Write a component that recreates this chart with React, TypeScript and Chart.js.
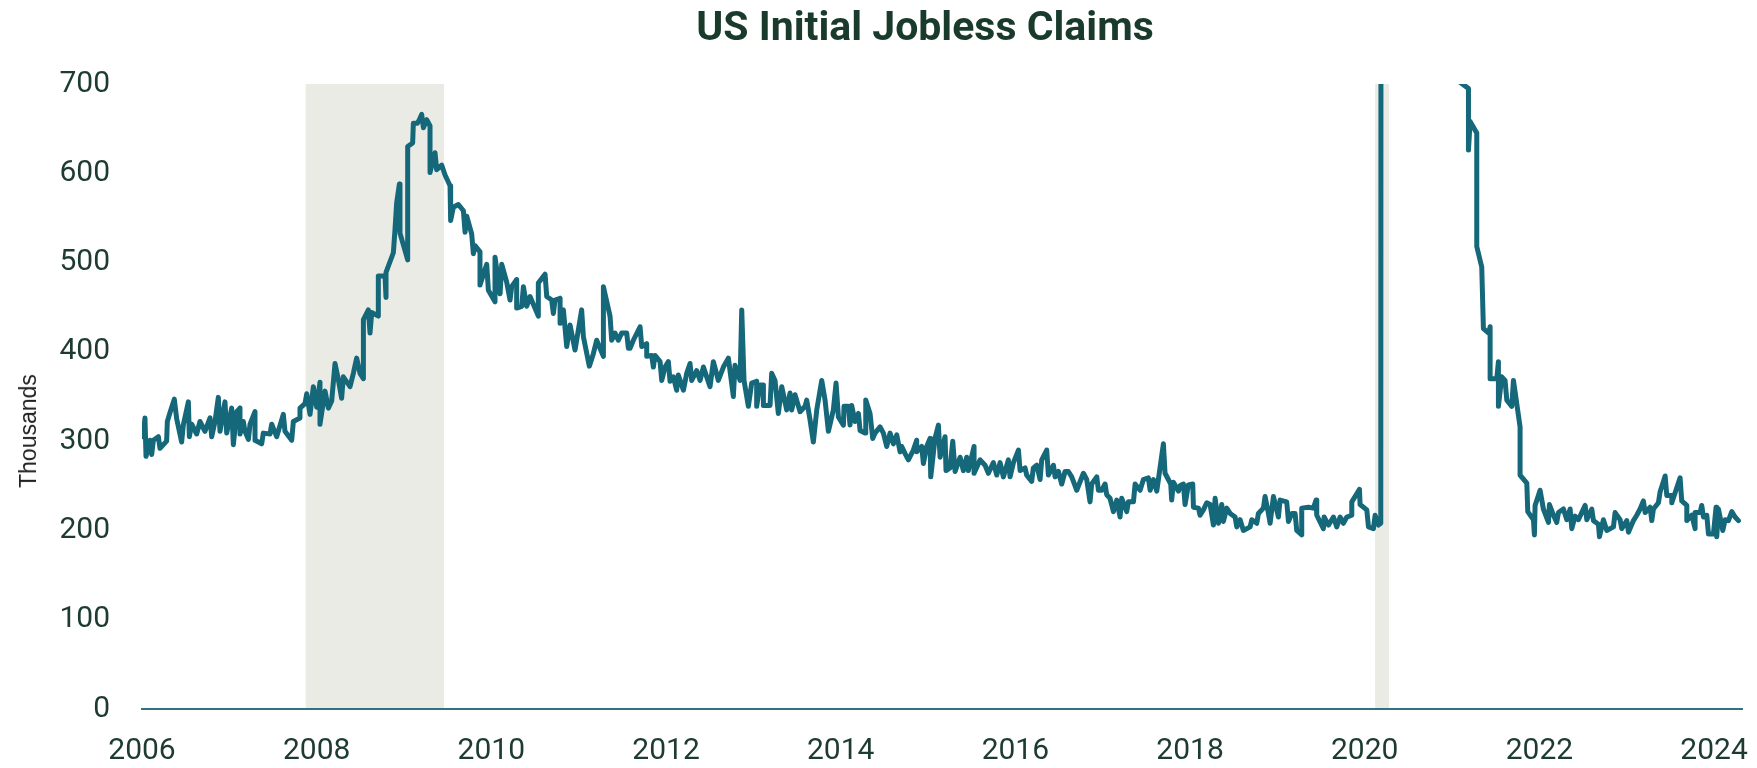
import React, { useEffect, useRef } from "react";
import { Chart, registerables } from "chart.js";

Chart.register(...registerables);

// Weekly observation dates (decimal years)
const weekYears: number[] = [
  2006.015, 2006.034, 2006.046, 2006.092, 2006.111, 2006.13, 2006.187, 2006.206, 2006.282, 2006.29,
  2006.321, 2006.37, 2006.397, 2006.454, 2006.473, 2006.531, 2006.542, 2006.569, 2006.626, 2006.664,
  2006.721, 2006.779, 2006.798, 2006.836, 2006.874, 2006.893, 2006.95, 2006.97, 2007.027, 2007.046,
  2007.084, 2007.122, 2007.122, 2007.16, 2007.179, 2007.218, 2007.237, 2007.294, 2007.294, 2007.37,
  2007.389, 2007.466, 2007.485, 2007.542, 2007.618, 2007.637, 2007.714, 2007.733, 2007.809, 2007.809,
  2007.866, 2007.886, 2007.924, 2007.962, 2008.0, 2008.038, 2008.038, 2008.096, 2008.134, 2008.172,
  2008.21, 2008.248, 2008.286, 2008.305, 2008.382, 2008.42, 2008.458, 2008.496, 2008.535, 2008.535,
  2008.592, 2008.611, 2008.63, 2008.706, 2008.706, 2008.783, 2008.794, 2008.794, 2008.878, 2008.897,
  2008.916, 2008.947, 2008.954, 2009.042, 2009.042, 2009.099, 2009.107, 2009.153, 2009.176, 2009.202,
  2009.222, 2009.26, 2009.298, 2009.298, 2009.355, 2009.374, 2009.432, 2009.47, 2009.527, 2009.534,
  2009.565, 2009.622, 2009.68, 2009.699, 2009.718, 2009.775, 2009.794, 2009.813, 2009.87, 2009.87,
  2009.947, 2009.966, 2010.042, 2010.042, 2010.1, 2010.119, 2010.176, 2010.214, 2010.233, 2010.29,
  2010.29, 2010.348, 2010.367, 2010.405, 2010.443, 2010.538, 2010.538, 2010.615, 2010.634, 2010.691,
  2010.71, 2010.729, 2010.787, 2010.787, 2010.825, 2010.863, 2010.901, 2010.958, 2011.034, 2011.054,
  2011.122, 2011.168, 2011.206, 2011.283, 2011.283, 2011.359, 2011.378, 2011.416, 2011.454, 2011.492,
  2011.55, 2011.569, 2011.588, 2011.626, 2011.703, 2011.722, 2011.779, 2011.779, 2011.836, 2011.855,
  2011.874, 2011.932, 2011.951, 2011.989, 2012.027, 2012.046, 2012.084, 2012.122, 2012.141, 2012.199,
  2012.237, 2012.275, 2012.294, 2012.351, 2012.39, 2012.428, 2012.466, 2012.504, 2012.542, 2012.599,
  2012.657, 2012.714, 2012.771, 2012.79, 2012.848, 2012.867, 2012.893, 2012.943, 2012.981, 2013.038,
  2013.038, 2013.076, 2013.115, 2013.115, 2013.191, 2013.21, 2013.248, 2013.286, 2013.325, 2013.382,
  2013.42, 2013.439, 2013.477, 2013.535, 2013.592, 2013.611, 2013.649, 2013.687, 2013.726, 2013.783,
  2013.821, 2013.859, 2013.916, 2013.947, 2013.974, 2014.031, 2014.038, 2014.088, 2014.107, 2014.126,
  2014.164, 2014.203, 2014.222, 2014.279, 2014.287, 2014.336, 2014.367, 2014.393, 2014.451, 2014.489,
  2014.527, 2014.565, 2014.603, 2014.642, 2014.68, 2014.699, 2014.737, 2014.775, 2014.832, 2014.87,
  2014.87, 2014.928, 2014.947, 2014.985, 2015.023, 2015.031, 2015.08, 2015.119, 2015.138, 2015.195,
  2015.206, 2015.252, 2015.283, 2015.31, 2015.367, 2015.405, 2015.443, 2015.462, 2015.527, 2015.527,
  2015.596, 2015.653, 2015.691, 2015.748, 2015.787, 2015.825, 2015.863, 2015.92, 2015.939, 2015.978,
  2016.035, 2016.054, 2016.111, 2016.13, 2016.187, 2016.206, 2016.245, 2016.283, 2016.302, 2016.359,
  2016.378, 2016.436, 2016.455, 2016.493, 2016.531, 2016.569, 2016.607, 2016.645, 2016.703, 2016.779,
  2016.817, 2016.855, 2016.874, 2016.932, 2016.951, 2016.989, 2017.027, 2017.046, 2017.084, 2017.123,
  2017.161, 2017.199, 2017.218, 2017.275, 2017.294, 2017.352, 2017.371, 2017.428, 2017.466, 2017.523,
  2017.543, 2017.581, 2017.619, 2017.695, 2017.714, 2017.779, 2017.79, 2017.81, 2017.867, 2017.886,
  2017.924, 2017.943, 2017.981, 2018.031, 2018.039, 2018.096, 2018.115, 2018.153, 2018.191, 2018.23,
  2018.268, 2018.287, 2018.325, 2018.363, 2018.382, 2018.42, 2018.459, 2018.516, 2018.535, 2018.573,
  2018.611, 2018.688, 2018.707, 2018.764, 2018.783, 2018.84, 2018.859, 2018.898, 2018.917, 2018.955,
  2019.012, 2019.031, 2019.107, 2019.127, 2019.165, 2019.203, 2019.222, 2019.279, 2019.279, 2019.356,
  2019.413, 2019.443, 2019.451, 2019.527, 2019.535, 2019.585, 2019.642, 2019.68, 2019.718, 2019.756,
  2019.795, 2019.852, 2019.852, 2019.909, 2019.94, 2019.947, 2020.024, 2020.043, 2020.1, 2020.119,
  2020.157, 2020.184, 2020.195, 2020.214, 2020.233, 2020.252, 2020.3, 2020.35, 2020.4, 2020.48,
  2020.55, 2020.65, 2020.75, 2020.85, 2020.95, 2021.03, 2021.092, 2021.188, 2021.188, 2021.207,
  2021.283, 2021.283, 2021.34, 2021.359, 2021.42, 2021.436, 2021.436, 2021.512, 2021.531, 2021.531,
  2021.569, 2021.607, 2021.627, 2021.684, 2021.703, 2021.779, 2021.779, 2021.856, 2021.867, 2021.932,
  2021.943, 2021.951, 2022.008, 2022.046, 2022.104, 2022.115, 2022.161, 2022.199, 2022.218, 2022.275,
  2022.314, 2022.352, 2022.371, 2022.409, 2022.447, 2022.524, 2022.543, 2022.6, 2022.619, 2022.676,
  2022.688, 2022.733, 2022.772, 2022.848, 2022.867, 2022.924, 2022.943, 2023.001, 2023.02, 2023.077,
  2023.115, 2023.153, 2023.191, 2023.211, 2023.268, 2023.287, 2023.306, 2023.363, 2023.382, 2023.44,
  2023.459, 2023.516, 2023.516, 2023.611, 2023.63, 2023.688, 2023.688, 2023.745, 2023.783, 2023.783,
  2023.84, 2023.859, 2023.879, 2023.917, 2023.936, 2023.993, 2024.023, 2024.031, 2024.05, 2024.1,
  2024.127, 2024.165, 2024.203, 2024.241, 2024.279,
];

// Initial jobless claims, thousands
const claimsThousands: number[] = [
  305, 326, 283, 301, 285, 301, 305, 292, 300, 322,
  332, 347, 325, 299, 318, 344, 305, 319, 308, 322,
  311, 326, 305, 322, 349, 311, 344, 309, 337, 296,
  333, 337, 308, 322, 311, 302, 319, 333, 301, 297,
  309, 308, 319, 305, 330, 311, 301, 322, 326, 337,
  342, 353, 330, 361, 338, 366, 319, 356, 337, 345,
  387, 369, 348, 372, 361, 376, 393, 376, 370, 436,
  447, 421, 444, 440, 485, 485, 461, 489, 511, 537,
  567, 588, 533, 503, 630, 634, 656, 656, 660, 666,
  651, 660, 653, 601, 623, 604, 609, 598, 586, 547,
  562, 565, 558, 534, 552, 532, 510, 519, 512, 475,
  498, 469, 456, 506, 465, 498, 478, 458, 473, 481,
  449, 451, 473, 451, 462, 440, 477, 487, 462, 458,
  443, 458, 460, 432, 447, 406, 430, 402, 447, 417,
  384, 398, 413, 395, 473, 440, 413, 421, 413, 421,
  421, 404, 404, 413, 428, 406, 409, 395, 396, 383,
  396, 389, 368, 383, 389, 367, 372, 357, 374, 357,
  376, 387, 368, 379, 368, 383, 372, 361, 389, 368,
  383, 393, 350, 385, 368, 447, 368, 339, 365, 367,
  339, 363, 363, 340, 340, 376, 368, 331, 361, 335,
  354, 335, 352, 333, 339, 346, 324, 299, 335, 368,
  346, 311, 335, 365, 327, 318, 339, 339, 318, 340,
  322, 331, 312, 309, 346, 331, 303, 309, 316, 309,
  294, 309, 297, 307, 288, 294, 286, 279, 290, 301,
  288, 294, 275, 294, 303, 260, 303, 318, 282, 305,
  267, 270, 300, 266, 282, 267, 282, 267, 294, 264,
  279, 273, 264, 276, 262, 276, 260, 279, 260, 276,
  290, 267, 270, 262, 255, 270, 273, 257, 279, 290,
  262, 273, 260, 266, 252, 266, 266, 260, 245, 264,
  257, 232, 252, 260, 245, 245, 252, 240, 236, 221,
  234, 215, 236, 221, 232, 232, 252, 245, 257, 259,
  245, 257, 244, 297, 264, 252, 234, 254, 244, 250,
  252, 229, 251, 252, 226, 225, 217, 223, 231, 229,
  206, 236, 208, 229, 210, 225, 219, 215, 204, 212,
  200, 204, 212, 208, 219, 225, 238, 219, 208, 238,
  215, 234, 232, 210, 219, 219, 200, 195, 225, 226,
  225, 234, 217, 202, 215, 206, 215, 204, 215, 208,
  215, 217, 232, 241, 246, 229, 223, 204, 202, 217,
  206, 208, 3300, 6200, 6600, 5200, 3800, 2700, 2100, 1500,
  1300, 1000, 870, 800, 850, 760, 702, 695, 626, 658,
  645, 518, 495, 426, 421, 428, 370, 370, 389, 339,
  372, 368, 346, 339, 368, 316, 262, 253, 221, 212,
  195, 228, 245, 224, 209, 229, 217, 209, 220, 224,
  212, 224, 202, 216, 212, 228, 212, 224, 211, 207,
  193, 212, 200, 204, 220, 212, 202, 211, 198, 211,
  217, 224, 233, 220, 226, 211, 224, 231, 243, 261,
  239, 239, 231, 259, 233, 228, 211, 217, 202, 220,
  220, 228, 215, 217, 196, 196, 226, 193, 224, 200,
  212, 211, 221, 215, 211,
];

// Recession periods (decimal years)
const recessionStarts: number[] = [2007.874, 2020.119];
const recessionEnds: number[] = [2009.458, 2020.279];

// Axis ranges and ticks
const xMin = 2006;
const xMax = 2024.32;
const xTickStep = 2;
const yTickLabels: number[] = [0, 100, 200, 300, 400, 500, 600, 700];

const TITLE = "US Initial Jobless Claims";
const Y_TITLE = "Thousands";

const recessionPlugin = {
  id: "recessionBands",
  beforeDraw(chart: any) {
    const { ctx, chartArea, scales } = chart;
    const xs = scales.x;
    ctx.save();
    ctx.fillStyle = "#ebebe6";
    recessionStarts.forEach((s, i) => {
      const x1 = xs.getPixelForValue(s);
      const x2 = xs.getPixelForValue(recessionEnds[i]);
      ctx.fillRect(x1, chartArea.top, x2 - x1, chartArea.bottom - chartArea.top);
    });
    ctx.restore();
  },
};

export default function App() {
  const canvasRef = useRef<HTMLCanvasElement | null>(null);

  useEffect(() => {
    const canvas = canvasRef.current;
    if (!canvas) return;
    const points = weekYears.map((x, i) => ({ x, y: claimsThousands[i] }));
    const tickColor = "#1d3b30";
    const chart = new Chart(canvas, {
      type: "line",
      data: {
        datasets: [
          {
            label: "Initial Jobless Claims",
            data: points,
            borderColor: "#15677a",
            borderWidth: 5,
            pointRadius: 0,
            pointHoverRadius: 0,
            tension: 0,
            fill: false,
            borderJoinStyle: "round",
            borderCapStyle: "round",
          },
        ],
      },
      options: {
        animation: false,
        responsive: false,
        devicePixelRatio: 1,
        events: [],
        layout: { padding: { top: 84, right: 15, bottom: 0, left: 0 } },
        plugins: {
          legend: { display: false },
          tooltip: { enabled: false },
          title: { display: false },
        },
        scales: {
          x: {
            type: "linear",
            min: xMin,
            max: xMax,
            bounds: "data",
            grid: { display: false, drawTicks: false },
            border: { display: true, color: "#2f7383", width: 2 },
            ticks: {
              stepSize: xTickStep,
              includeBounds: false,
              autoSkip: false,
              maxRotation: 0,
              padding: 0,
              color: tickColor,
              font: { family: "Roboto", size: 30, lineHeight: 2.83 },
              callback: (v: any) => String(v),
            },
            afterFit: (s: any) => {
              s.height = 59;
            },
          },
          y: {
            min: yTickLabels[0],
            max: yTickLabels[yTickLabels.length - 1],
            grid: { display: false, drawTicks: false },
            border: { display: false },
            ticks: {
              stepSize: 100,
              padding: 32,
              color: tickColor,
              font: { family: "Roboto", size: 30 },
              callback: (v: any) => String(v),
            },
            afterFit: (s: any) => {
              s.width = 142;
            },
          },
        },
      },
      plugins: [recessionPlugin],
    });
    return () => chart.destroy();
  }, []);

  return (
    <div style={{ position: "absolute", left: 0, top: 0, width: 1757, height: 768, background: "#fff" }}>
      <canvas ref={canvasRef} width={1757} height={768} style={{ display: "block" }} />
      <div
        style={{
          position: "absolute",
          left: 425,
          width: 1000,
          top: 6,
          textAlign: "center",
          fontFamily: "Roboto",
          fontWeight: 700,
          fontSize: 41,
          lineHeight: "41px",
          color: "#1a3a2c",
          whiteSpace: "nowrap",
        }}
      >
        {TITLE}
      </div>
      <div
        style={{
          position: "absolute",
          left: 28,
          top: 431,
          transform: "translate(-50%, -50%) rotate(-90deg)",
          fontFamily: '"Liberation Sans", Arial, sans-serif',
          fontSize: 23,
          lineHeight: "26px",
          color: "#222",
          whiteSpace: "nowrap",
        }}
      >
        {Y_TITLE}
      </div>
    </div>
  );
}
